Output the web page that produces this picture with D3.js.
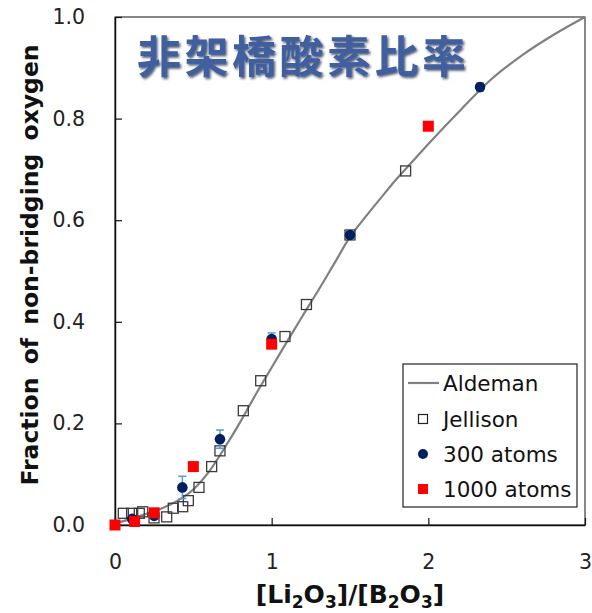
<!DOCTYPE html>
<html><head><meta charset="utf-8">
<script src="https://cdn.jsdelivr.net/npm/d3@7"></script>
<style>body{margin:0;background:#fff}svg{display:block}</style>
</head><body>
<svg id="c" width="592" height="613"></svg>
<script>
// ---- data ----
const aldemanX = [0, 0.1, 0.2, 0.3, 0.4, 0.5, 0.6, 0.7, 0.8, 0.9, 1.0, 1.1, 1.2, 1.3, 1.4, 1.5, 1.6, 1.7, 1.8, 1.9, 2.0, 2.2, 2.4, 2.6, 2.8, 3.0];
const aldemanY = [0.003, 0.012, 0.022, 0.033, 0.048, 0.07, 0.105, 0.152, 0.203, 0.258, 0.31, 0.362, 0.413, 0.463, 0.515, 0.567, 0.607, 0.645, 0.682, 0.716, 0.75, 0.815, 0.877, 0.925, 0.965, 1.0];
const jellisonX = [0.053, 0.106, 0.155, 0.177, 0.249, 0.33, 0.372, 0.432, 0.468, 0.536, 0.617, 0.67, 0.819, 0.93, 1.085, 1.222, 1.5, 1.855];
const jellisonY = [0.023, 0.023, 0.023, 0.026, 0.014, 0.016, 0.033, 0.036, 0.048, 0.074, 0.115, 0.146, 0.225, 0.284, 0.371, 0.434, 0.571, 0.697];
const atoms300X = [0.11, 0.25, 0.43, 0.67, 1.0, 1.5, 2.33];
const atoms300Y = [0.012, 0.018, 0.074, 0.169, 0.366, 0.571, 0.862];
const atoms300Err = [0.0, 0.0, 0.022, 0.018, 0.012, 0.008, 0.008];
const atoms1000X = [0, 0.125, 0.25, 0.5, 1.0, 2.0];
const atoms1000Y = [0.0, 0.007, 0.024, 0.115, 0.356, 0.785];
const xTicks = [0, 1, 2, 3];
const yTicks = [0, 0.2, 0.4, 0.6, 0.8, 1.0];
const legendLabels = ["Aldeman", "Jellison", "300 atoms", "1000 atoms"];
const titleText = "非架橋酸素比率";

// ---- chart ----
const svg = d3.select("#c");
const x = d3.scaleLinear().domain([0, 3]).range([115, 585]);
const y = d3.scaleLinear().domain([0, 1]).range([525, 17]);
const font = "'DejaVu Sans', Verdana, sans-serif";

const defs = svg.append("defs");
const f = defs.append("filter").attr("id", "sh").attr("x", "-5%").attr("y", "-10%").attr("width", "115%").attr("height", "130%");
f.append("feDropShadow").attr("dx", 1.5).attr("dy", 1.8).attr("stdDeviation", 0.8).attr("flood-color", "#1c2a4a").attr("flood-opacity", 0.75);

// frame
svg.append("rect").attr("x", x(0)).attr("y", y(1)).attr("width", x(3) - x(0)).attr("height", y(0) - y(1))
  .attr("fill", "none").attr("stroke", "#111").attr("stroke-width", 1);

// axes
const xAxis = d3.axisBottom(x).tickValues(xTicks).tickFormat(d3.format("d")).tickSizeInner(-7).tickSizeOuter(0).tickPadding(29);
const yAxis = d3.axisLeft(y).tickValues(yTicks).tickFormat(d3.format(".1f")).tickSizeInner(-7).tickSizeOuter(0).tickPadding(30);
const gx = svg.append("g").attr("transform", `translate(0,${y(0)})`).call(xAxis);
const gy = svg.append("g").attr("transform", `translate(${x(0)},0)`).call(yAxis);
[gx, gy].forEach(g => {
  g.selectAll("path.domain").attr("stroke", "#111").attr("stroke-width", 1.5);
  g.selectAll(".tick line").attr("stroke", "#111").attr("stroke-width", 1.2);
  g.selectAll(".tick text").attr("font-family", font).attr("font-size", 20.5).attr("fill", "#222");
});

// Aldeman curve
const curveData = aldemanX.map((d, i) => [d, aldemanY[i]]);
svg.append("path").datum(curveData)
  .attr("d", d3.line().x(d => x(d[0])).y(d => y(d[1])).curve(d3.curveMonotoneX))
  .attr("fill", "none").attr("stroke", "#808080").attr("stroke-width", 2.2);

// Jellison
const sq = 10;
svg.append("g").selectAll("rect").data(jellisonX.map((d, i) => [d, jellisonY[i]])).join("rect")
  .attr("x", d => x(d[0]) - sq / 2).attr("y", d => y(d[1]) - sq / 2)
  .attr("width", sq).attr("height", sq)
  .attr("fill", "none").attr("stroke", "#3a3a3a").attr("stroke-width", 1.3);

// 300 atoms with error bars
const a300 = atoms300X.map((d, i) => ({x: d, y: atoms300Y[i], e: atoms300Err[i]}));
const eb = svg.append("g").attr("stroke", "#5b9bd5").attr("stroke-width", 1.5);
a300.filter(d => d.e > 0).forEach(d => {
  eb.append("line").attr("x1", x(d.x)).attr("x2", x(d.x)).attr("y1", y(d.y - d.e)).attr("y2", y(d.y + d.e));
  [d.y - d.e, d.y + d.e].forEach(v => eb.append("line").attr("x1", x(d.x) - 4).attr("x2", x(d.x) + 4).attr("y1", y(v)).attr("y2", y(v)));
});
svg.append("g").selectAll("circle").data(a300).join("circle")
  .attr("cx", d => x(d.x)).attr("cy", d => y(d.y)).attr("r", 5.3).attr("fill", "#002060");

// 1000 atoms
const rs = 11;
svg.append("g").selectAll("rect").data(atoms1000X.map((d, i) => [d, atoms1000Y[i]])).join("rect")
  .attr("x", d => x(d[0]) - rs / 2).attr("y", d => y(d[1]) - rs / 2)
  .attr("width", rs).attr("height", rs).attr("fill", "#ff0000");

// title
svg.append("text").attr("x", 137).attr("y", 73).text(titleText)
  .attr("font-family", "'Noto Sans CJK JP', 'Noto Sans CJK SC', sans-serif").attr("font-weight", "bold")
  .attr("font-size", 44).attr("letter-spacing", 3.5).attr("fill", "#405f9e").attr("filter", "url(#sh)");

// legend
const lg = svg.append("g");
lg.append("rect").attr("x", 403).attr("y", 364).attr("width", 174).attr("height", 143)
  .attr("fill", "#fff").attr("stroke", "#222").attr("stroke-width", 1.2);
const ly = [383, 419, 454, 489];
lg.append("line").attr("x1", 408).attr("x2", 439).attr("y1", ly[0]).attr("y2", ly[0]).attr("stroke", "#808080").attr("stroke-width", 2.2);
lg.append("rect").attr("x", 423 - 4.5).attr("y", ly[1] - 4.5).attr("width", 9).attr("height", 9).attr("fill", "none").attr("stroke", "#222").attr("stroke-width", 1.2);
lg.append("circle").attr("cx", 423).attr("cy", ly[2]).attr("r", 5).attr("fill", "#002060");
lg.append("rect").attr("x", 423 - 5).attr("y", ly[3] - 5).attr("width", 10).attr("height", 10).attr("fill", "#ff0000");
lg.selectAll("text.l").data(legendLabels).join("text").attr("class", "l")
  .attr("x", 443).attr("y", (d, i) => ly[i]).attr("dy", "0.36em").text(d => d)
  .attr("font-family", font).attr("font-size", 21.5).attr("fill", "#111");

// y label
svg.append("text").attr("transform", "translate(38,265) rotate(-90)").attr("text-anchor", "middle")
  .attr("font-family", font).attr("font-weight", "bold").attr("font-size", 23.5).attr("fill", "#111")
  .attr("word-spacing", 5)
  .text("Fraction of non-bridging oxygen");

// x label with subscripts
const xl = svg.append("text").attr("x", 350).attr("y", 603).attr("text-anchor", "middle")
  .attr("font-family", font).attr("font-weight", "bold").attr("font-size", 25).attr("fill", "#111");
const parts = [["[Li", 0], ["2", 1], ["O", 0], ["3", 1], ["]/[B", 0], ["2", 1], ["O", 0], ["3", 1], ["]", 0]];
let prevSub = false;
parts.forEach(([t, sub]) => {
  const s = xl.append("tspan").text(t);
  if (sub) s.attr("font-size", 17);
  let dy = 0;
  if (sub && !prevSub) dy = 5;
  if (!sub && prevSub) dy = -5;
  s.attr("dy", dy);
  prevSub = !!sub;
});
</script>
</body></html>
